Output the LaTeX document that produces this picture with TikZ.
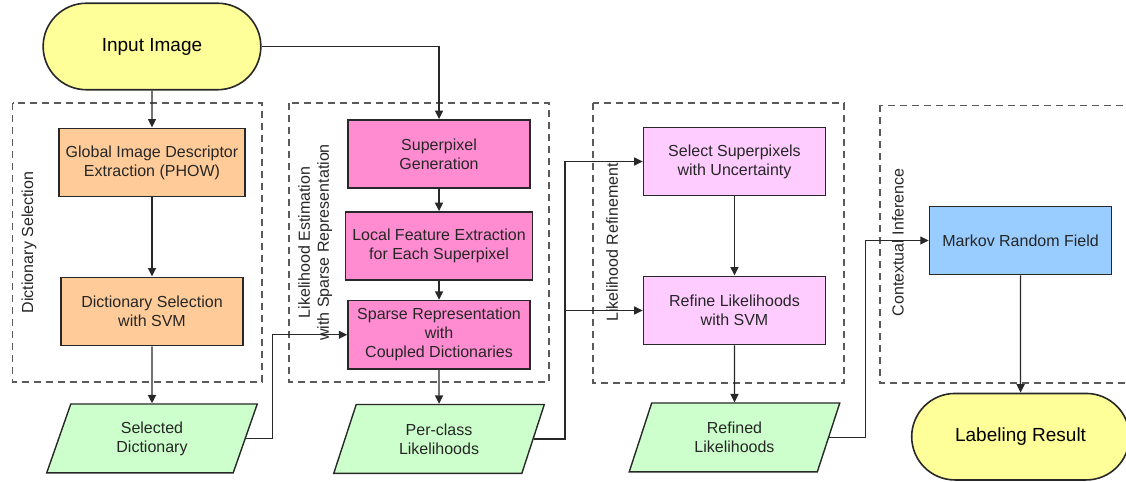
\documentclass[tikz,border=0pt]{standalone}
\usepackage{fontspec}
\setmainfont{Liberation Sans}
\usetikzlibrary{positioning, arrows.meta, shapes.geometric, shapes.misc}
\definecolor{termFill}{RGB}{255, 255, 153}
\definecolor{descFill}{RGB}{255, 204, 153}
\definecolor{estFill}{RGB}{255, 140, 208}
\definecolor{refFill}{RGB}{255, 204, 255}
\definecolor{dataFill}{RGB}{204, 255, 204}
\definecolor{mrfFill}{RGB}{153, 204, 255}
\definecolor{edgeC}{RGB}{40, 40, 40}
\definecolor{grpC}{RGB}{90, 90, 90}

\begin{document}
\begin{tikzpicture}[>={Triangle[length=4.2pt, width=4pt]},
  boxtext/.style={font=\fontsize{8}{9.5}\selectfont, align=center, text=black!85},
  proc/.style={draw=edgeC, line width=0.8pt, minimum width=3.2cm, minimum height=1.2cm, boxtext},
  datab/.style={draw=edgeC, line width=0.7pt, fill=dataFill, trapezium,
                trapezium left angle=63, trapezium right angle=117, trapezium stretches body,
                minimum width=3.7cm, minimum height=1.21cm, boxtext},
  term/.style={draw=edgeC, line width=0.8pt, fill=termFill, rounded rectangle,
               minimum width=4.06cm, minimum height=1.52cm, font=\fontsize{9.5}{11}\selectfont},
  grp/.style={draw=grpC, line width=0.75pt, dash pattern=on 3.5pt off 2.5pt},
  grplabel/.style={rotate=90, font=\fontsize{8}{9.5}\selectfont, align=center, text=black!85},
  flow/.style={->, draw=edgeC, line width=0.65pt}]
  \useasboundingbox (0,0) rectangle (19.787,-8.47);

  % stage frames
  \draw[grp] (0.22,-1.81) rectangle (4.60,-6.71);
  \draw[grp] (5.08,-1.81) rectangle (9.65,-6.71);
  \draw[grp] (10.42,-1.81) rectangle (14.83,-6.73);
  \draw[grp] (15.46,-1.85) rectangle (20.1,-6.73);
  \node[grplabel] (lab1) at (0.51,-4.26) {Dictionary Selection};
  \node[grplabel] (lab2) at (5.54,-4.26) {Likelihood Estimation\\with Sparse Representation};
  \node[grplabel] (lab3) at (10.755,-4.26) {Likelihood Refinement};
  \node[grplabel] (lab4) at (15.78,-4.26) {Contextual Inference};

  % dictionary selection
  \node[term] (input) at (2.671,-0.817) {Input Image};
  \node[proc, fill=descFill, below=0.65cm of input] (glob) {Global Image Descriptor\\Extraction (PHOW)};
  \node[proc, fill=descFill, below=1.39cm of glob] (dictsel) {Dictionary Selection\\with SVM};
  \node[datab, below=1.0cm of dictsel] (seldict) {Selected\\Dictionary};

  % likelihood estimation
  \node[proc, fill=estFill] (super) at (7.715,-2.706) {Superpixel\\Generation};
  \node[proc, fill=estFill, below=0.39cm of super] (local) {Local Feature Extraction\\for Each Superpixel};
  \node[proc, fill=estFill, below=0.33cm of local] (sparse) {Sparse Representation\\with\\Coupled Dictionaries};
  \node[datab, below=0.6cm of sparse] (perclass) {Per-class\\Likelihoods};

  % refinement
  \node[proc, fill=refFill] (select) at (12.907,-2.838) {Select Superpixels\\with Uncertainty};
  \node[proc, fill=refFill, below=1.39cm of select] (refine) {Refine Likelihoods\\with SVM};
  \node[datab, below=1.0cm of refine] (refined) {Refined\\Likelihoods};

  % contextual inference
  \node[proc, fill=mrfFill] (mrf) at (17.934,-4.226) {Markov Random Field};
  \node[term, below=2.06cm of mrf] (result) {Labeling Result};

  \draw[flow] (input) -- (glob);
  \draw[flow] (glob) -- (dictsel);
  \draw[flow] (dictsel) -- (seldict);
  \draw[flow] (input.east) -| (super.north);
  \draw[flow] (super) -- (local);
  \draw[flow] (local) -- (sparse);
  \draw[flow] (sparse) -- (perclass);
  \draw[flow] (seldict.east) -- ++(0.47,0) |- (sparse.west);
  \draw[flow] (perclass.east) -- ++(0.55,0) |- (select.west);
  \draw[flow] (perclass.east) ++(0.55,0) |- (refine.west);
  \draw[flow] (select) -- (refine);
  \draw[flow] (refine) -- (refined);
  \draw[flow] (refined.east) -- ++(0.64,0) |- (mrf.west);
  \draw[flow] (mrf) -- (result);
\end{tikzpicture}
\end{document}
